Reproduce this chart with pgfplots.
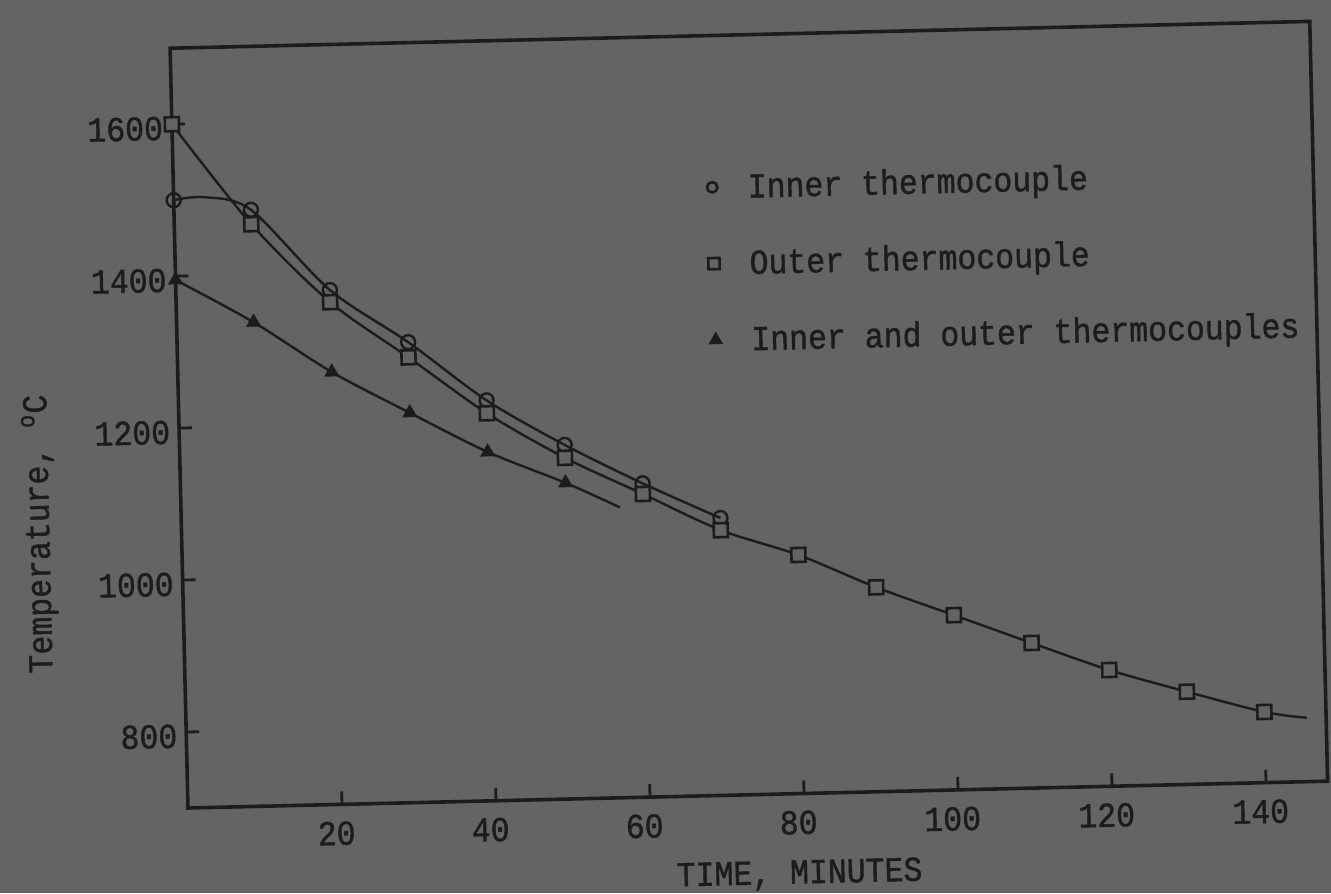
\documentclass[border=0pt]{standalone}
\usepackage{pgfplots}
\pgfplotsset{compat=1.18}
\usepackage{fontspec}
\setmainfont{Liberation Mono}[FakeStretch=0.9, FakeBold=1.2]
\definecolor{paper}{HTML}{646464}
\definecolor{ink}{HTML}{1C1C1C}

% measured cooling curves
\pgfplotstableread{
t    T
0    1500
4    1503
10   1485
20   1377
30   1306
40   1227
50   1166
60   1113
70   1065
}\innerline
\pgfplotstableread{
t    T
0    1500
10   1485
20   1377
30   1306
40   1227
50   1166
60   1113
70   1065
}\innerpts
\pgfplotstableread{
t    T
0    1600
10   1466
20   1361
30   1286
40   1210
50   1149
60   1099
70   1049
80   1014
90   969
100  930
110  891
120  853
130  822
140  793
145.5 784
}\outerline
\pgfplotstableread{
t    T
0    1600
10   1466
20   1361
30   1286
40   1210
50   1149
60   1099
70   1049
80   1014
90   969
100  930
110  891
120  853
130  822
140  793
}\outerpts
\pgfplotstableread{
t    T
0    1395
10   1337
20   1269
30   1213
40   1159
50   1116
57   1082
}\bothline
\pgfplotstableread{
t    T
0    1395
10   1337
20   1269
30   1213
40   1159
50   1116
}\bothpts

\begin{document}
\begin{tikzpicture}
\fill[paper] (-94pt,-42.5pt) rectangle (571.5pt,404pt);
\useasboundingbox (-94pt,-42.5pt) rectangle (571.5pt,404pt);
\begin{scope}[transform canvas={rotate=1.35}]
\begin{axis}[
  at={(0pt,0pt)}, anchor=south west,
  width=570pt, height=380pt, scale only axis,
  xmin=0, xmax=148, ymin=700, ymax=1700,
  clip=false,
  axis line style={ink, line width=1.8pt},
  tick align=inside, tick pos=left,
  major tick length=6.5pt,
  every tick/.style={ink, line width=1.4pt},
  xtick={20,40,60,80,100,120,140},
  xticklabels={20,40,60,80,100,120,140},
  ytick={800,1000,1200,1400,1600},
  yticklabels={800,1000,1200,1400,1600},
  tick label style={font=\fontsize{17.5}{20}\selectfont, text=ink},
  xticklabel style={yshift=-5pt, xshift=-3pt},
  yticklabel style={yshift=-2pt, xshift=-1pt},
  xlabel={TIME, MINUTES},
  ylabel={Temperature, \textsuperscript{o}C},
  label style={font=\fontsize{17.5}{20}\selectfont, text=ink},
  xlabel style={at={(axis description cs:0.535,-0.107)}, anchor=center},
  ylabel style={at={(axis description cs:-0.124,0.365)}, anchor=center},
  legend style={draw=none, fill=none, text=ink,
    font=\fontsize{17.5}{20}\selectfont,
    at={(axis description cs:0.462,0.83)}, anchor=north west,
    row sep=20pt,
    /tikz/every odd column/.append style={column sep=13pt}},
  legend cell align=left,
  every axis plot/.append style={ink, line width=1.2pt},
]
\addplot[smooth, forget plot] table {\innerline};
\addplot[smooth, forget plot] table {\outerline};
\addplot[smooth, forget plot] table {\bothline};
\addplot[only marks, mark=o, mark size=3.5pt, mark options={fill=paper, line width=1.2pt}, forget plot] table {\innerpts};
\addplot[only marks, mark=square*, mark size=3.5pt, mark options={fill=paper, line width=1.3pt}, forget plot] table {\outerpts};
\addplot[only marks, mark=triangle*, mark size=3.2pt, mark options={fill=ink}, forget plot] table {\bothpts};
\addlegendimage{only marks, mark=o, mark size=2.6pt, mark options={line width=1.3pt}}
\addlegendentry{Inner thermocouple}
\addlegendimage{only marks, mark=square, mark size=2.8pt, mark options={line width=1.3pt}}
\addlegendentry{Outer thermocouple}
\addlegendimage{only marks, mark=triangle*, mark size=3pt, mark options={fill=ink}}
\addlegendentry{Inner and outer thermocouples}
\end{axis}
\end{scope}
\end{tikzpicture}
\end{document}
